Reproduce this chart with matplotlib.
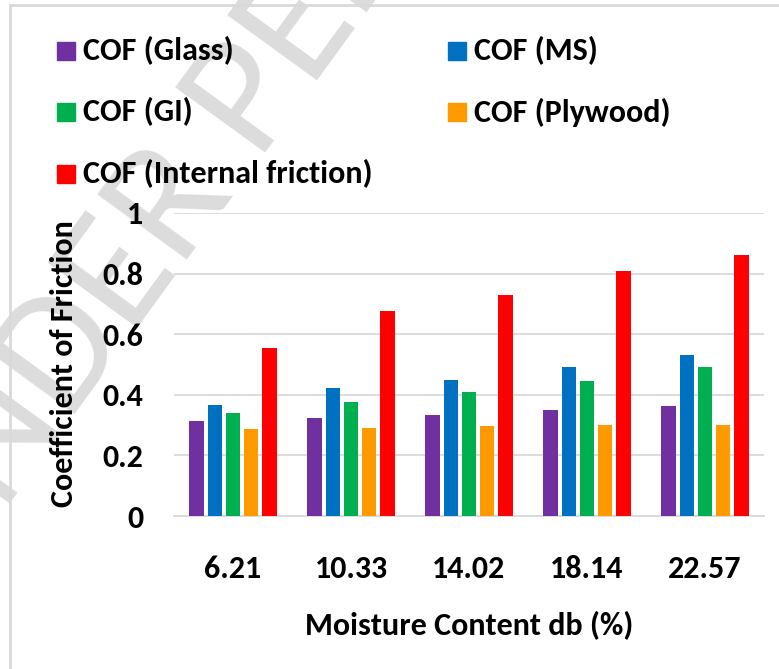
import matplotlib
matplotlib.use("Agg")
import matplotlib.pyplot as plt
import matplotlib.font_manager as fm
import numpy as np
from matplotlib.lines import Line2D
from matplotlib.patches import Rectangle

# ---- data ----
categories = ["6.21", "10.33", "14.02", "18.14", "22.57"]
series_names = ["COF (Glass)", "COF (MS)", "COF (GI)", "COF (Plywood)", "COF (Internal friction)"]
glass = [0.313, 0.323, 0.334, 0.350, 0.362]
ms = [0.367, 0.421, 0.450, 0.492, 0.532]
gi = [0.341, 0.375, 0.409, 0.446, 0.491]
plywood = [0.287, 0.292, 0.296, 0.299, 0.300]
internal = [0.556, 0.678, 0.730, 0.809, 0.862]
y_ticks = [0, 0.2, 0.4, 0.6, 0.8, 1.0]
y_tick_labels = ["0", "0.2", "0.4", "0.6", "0.8", "1"]
colors = ["#7030A0", "#0070C0", "#00B050", "#FF9900", "#FF0000"]
x_title = "Moisture Content db (%)"
y_title = "Coefficient of Friction"
watermark = "UNDER PEER REVIEW"

# ---- font selection ----
names = {f.name for f in fm.fontManager.ttflist}
FAM = "Liberation Sans"
for cand in ["Carlito", "Liberation Sans Narrow", "Roboto Condensed", "Open Sans Condensed"]:
    if cand in names:
        FAM = cand
        break

FS = 23
W, H = 779, 669
fig = plt.figure(figsize=(W / 100, H / 100), dpi=100)

def fx(px):
    return px / W

def fy(py):
    return 1 - py / H

# watermark
fig.text(fx(-62), fy(602), watermark, rotation=54, rotation_mode="anchor",
         ha="left", va="baseline", fontsize=124, color="#dcdcdc", family=FAM,
         fontweight="normal", zorder=-1)

# partial frame
fig.add_artist(Line2D([fx(10), fx(10)], [fy(5), 0], color="#d9d9d9", lw=2))
fig.add_artist(Line2D([fx(10), 1], [fy(5), fy(5)], color="#d9d9d9", lw=2))

ax = fig.add_axes([fx(174), fy(516), fx(764) - fx(174), fy(213) - fy(516)])
ax.patch.set_alpha(0)

series = [glass, ms, gi, plywood, internal]
x = np.arange(len(categories))
step = 0.155
bw = 0.121
for i, (vals, c) in enumerate(zip(series, colors)):
    ax.bar(x + (i - 2) * step, vals, width=bw, color=c, zorder=3)

ax.set_xlim(-0.5, len(categories) - 0.5)
ax.set_ylim(0, 1.0)
ax.set_yticks(y_ticks)
ax.set_yticklabels(y_tick_labels)
ax.set_xticks(x)
ax.set_xticklabels(categories)
ax.grid(axis="y", color="#d9d9d9", lw=1.3, zorder=0)
ax.set_axisbelow(True)
for s in ["top", "right", "left"]:
    ax.spines[s].set_visible(False)
ax.spines["bottom"].set_color("#d9d9d9")
ax.spines["bottom"].set_linewidth(1.3)
ax.tick_params(axis="both", length=0)
ax.tick_params(axis="y", pad=22)
ax.tick_params(axis="x", pad=28)
for lab in ax.get_yticklabels() + ax.get_xticklabels():
    lab.set_fontsize(FS)
    lab.set_fontweight("bold")
    lab.set_family(FAM)

fig.text(fx(64), fy(364), y_title, rotation=90, ha="center", va="center",
         fontsize=FS, fontweight="bold", family=FAM)
fig.text(fx(469), fy(626), x_title, ha="center", va="center",
         fontsize=FS, fontweight="bold", family=FAM)

# legend (manual layout, 2 columns)
leg_pos = [(57, 51), (448, 51), (57, 112), (448, 112), (57, 174)]
for (px, py), name, c in zip(leg_pos, series_names, colors):
    fig.add_artist(Rectangle((fx(px), fy(py + 9)), fx(18), 18 / H, color=c, transform=fig.transFigure))
    fig.text(fx(px + 26), fy(py), name, fontsize=FS, fontweight="bold", family=FAM,
             ha="left", va="center")

fig.savefig("out.png", dpi=100)
